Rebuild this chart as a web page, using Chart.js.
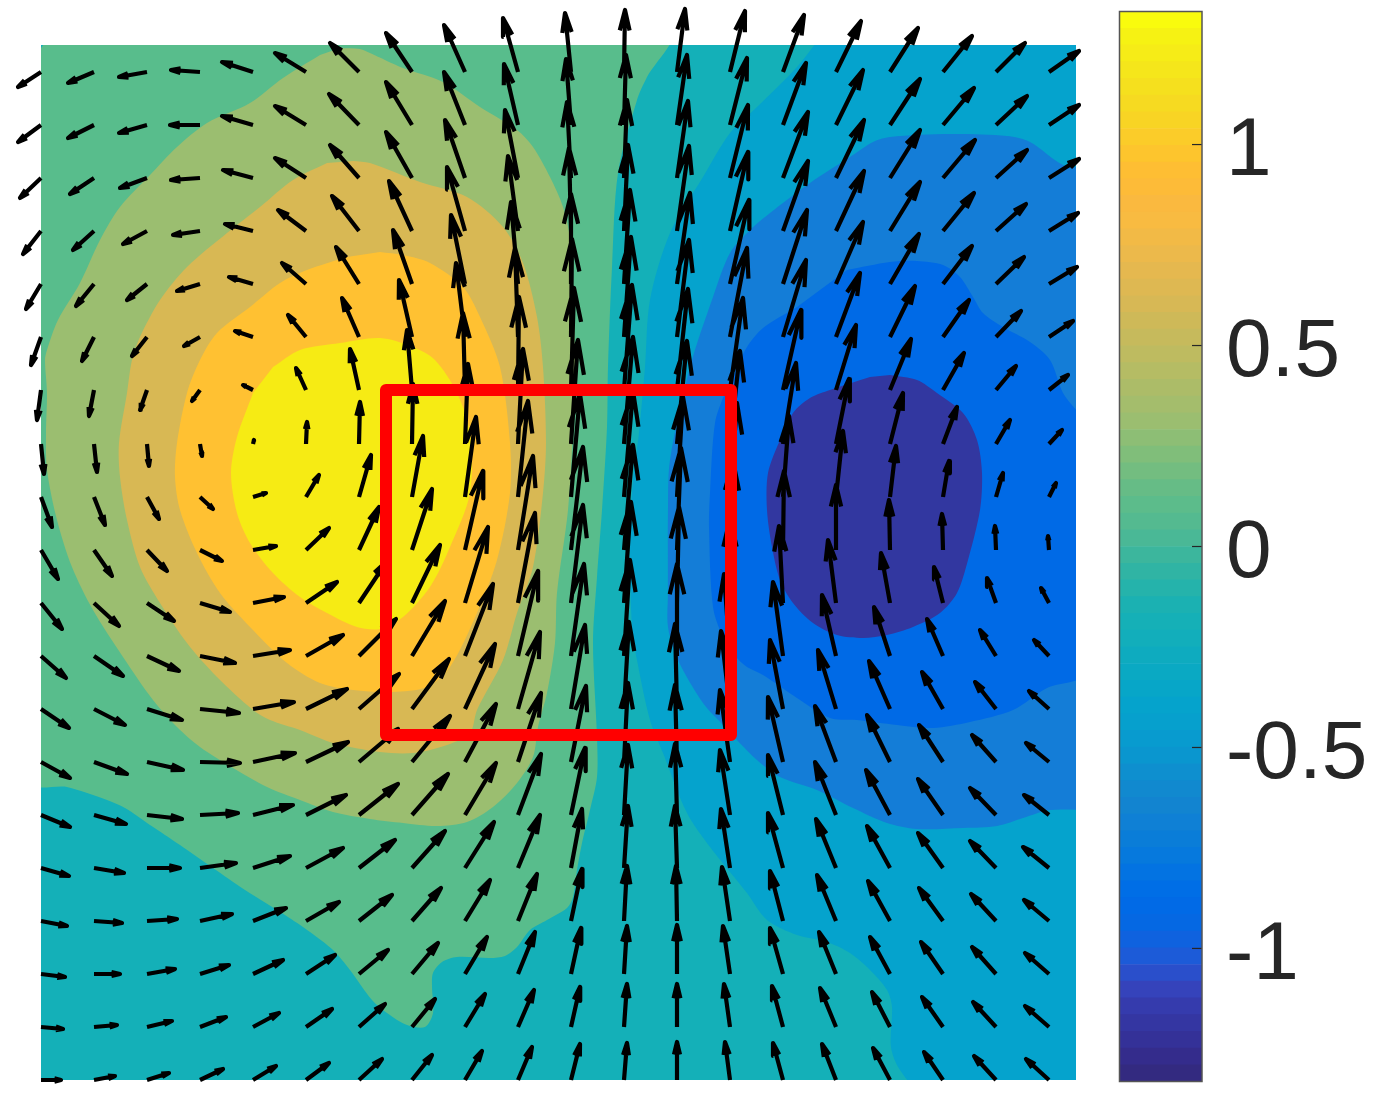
<!DOCTYPE html>
<html>
<head>
<meta charset="utf-8">
<title>Contour and quiver</title>
<script src="https://cdn.jsdelivr.net/npm/chart.js@4"></script>
<style>
html,body{margin:0;padding:0;background:#fff;}
canvas{position:absolute;}
#plot{left:0;top:0;}
#bar{left:1117px;top:9px;}
</style>
</head>
<body>
<canvas id="plot" width="1375" height="1097"></canvas>
<canvas id="bar" width="258" height="1075"></canvas>
<script>
// GRID OF THE ARROWS (tails)
const gridX = [0,53,106,159,212,265,318,371,424,477,530,583,636,689,742,795,849,902,955,1008];
const gridY = [1008,955,902,849,796,743,690,636,583,530,477,424,371,318,265,212,159,106,53,0];

// ARROW COMPONENTS, one list per row, top row first
const quiverU = [
  [-23,-26,-28,-29,-31,-31,-29,-26,-21,-15,-6,1,8,15,21,25,28,29,29,30],
  [-23,-26,-28,-30,-31,-31,-30,-26,-21,-14,-5,2,10,17,23,27,30,31,31,30],
  [-21,-24,-27,-29,-30,-31,-29,-26,-20,-13,-4,3,11,18,25,28,30,32,31,30],
  [-18,-21,-24,-27,-28,-28,-27,-23,-18,-10,-2,4,12,18,25,28,30,31,30,29],
  [-15,-18,-20,-23,-24,-24,-23,-19,-14,-7,0,6,13,19,24,27,29,29,28,28],
  [-10,-12,-15,-16,-18,-18,-17,-13,-9,-3,1,7,12,17,23,24,25,26,25,24],
  [-4,-5,-7,-8,-10,-10,-9,-5,-2,1,3,8,11,13,18,20,21,21,20,19],
  [3,3,2,2,1,1,1,1,3,5,7,9,10,10,13,13,13,14,14,13],
  [11,11,12,13,13,13,12,11,11,10,9,9,6,7,6,7,6,6,7,7],
  [17,18,20,22,23,23,20,20,18,15,12,9,4,3,1,0,-1,-1,-1,-1],
  [21,25,27,30,31,31,28,28,23,17,12,7,2,0,-4,-8,-9,-9,-9,-8],
  [25,29,32,35,37,37,37,33,28,20,13,6,0,-6,-10,-14,-16,-16,-16,-15],
  [28,31,35,39,41,41,40,37,30,22,14,5,-2,-9,-13,-18,-21,-21,-21,-20],
  [29,33,36,40,42,42,39,38,31,23,15,4,-2,-10,-15,-21,-23,-24,-24,-23],
  [29,32,35,38,40,40,39,36,31,23,14,4,-2,-10,-15,-21,-24,-25,-26,-25],
  [28,30,33,36,37,37,36,33,29,22,11,4,-2,-9,-15,-20,-23,-25,-26,-26],
  [26,28,30,32,33,33,33,29,25,19,11,3,-1,-8,-13,-19,-22,-24,-25,-25],
  [24,26,28,29,30,29,29,26,22,17,10,3,0,-7,-13,-17,-20,-22,-24,-24],
  [22,23,25,26,26,26,26,23,20,16,9,3,0,-6,-11,-16,-18,-21,-23,-24],
  [20,21,22,23,23,23,23,20,17,14,9,3,0,-5,-10,-14,-17,-19,-22,-23]
];
const quiverV = [
  [-15,-11,-5,2,10,19,29,39,47,54,59,62,63,61,57,51,44,36,29,21],
  [-17,-13,-8,0,9,19,31,43,53,61,66,70,70,67,62,55,46,37,29,20],
  [-20,-16,-10,-2,8,20,33,46,58,68,76,78,77,73,66,58,48,38,28,19],
  [-23,-19,-13,-4,7,21,35,50,64,75,83,86,85,79,70,60,49,38,27,18],
  [-25,-22,-16,-7,7,21,37,54,69,82,90,94,91,84,74,62,50,38,27,17],
  [-28,-24,-19,-9,6,22,39,57,74,89,98,100,97,89,77,64,51,37,26,16],
  [-30,-26,-20,-11,5,22,41,60,77,93,102,105,101,92,80,65,51,37,24,15],
  [-30,-28,-22,-12,4,22,42,60,80,95,104,107,103,93,81,65,51,37,24,14],
  [-30,-28,-22,-12,4,22,42,61,80,96,103,106,100,94,81,66,51,36,24,14],
  [-29,-26,-21,-11,4,22,43,61,79,94,103,105,102,89,79,65,50,36,24,14],
  [-26,-23,-18,-9,6,21,42,58,76,90,98,101,96,84,77,63,50,36,25,15],
  [-22,-20,-15,-7,6,21,37,55,72,85,92,96,92,82,74,61,49,37,26,16],
  [-19,-16,-11,-4,7,20,35,50,65,77,84,87,85,78,69,59,48,37,27,18],
  [-16,-12,-8,-1,9,20,33,46,58,69,76,79,77,72,65,56,47,37,27,19],
  [-12,-9,-4,2,10,20,31,41,52,61,67,70,71,65,60,53,45,36,27,20],
  [-8,-5,0,5,12,20,28,37,46,53,59,62,62,59,55,49,42,35,27,21],
  [-5,-2,2,7,13,19,26,33,41,47,52,55,55,54,50,46,40,33,27,21],
  [-3,0,5,9,14,19,24,31,37,42,46,48,49,48,46,42,37,32,27,21],
  [-2,2,6,10,14,18,23,28,33,37,40,43,43,43,41,39,35,30,25,21],
  [0,4,7,11,14,17,21,25,29,33,36,37,38,38,37,36,32,28,24,21]
];

// CONTOUR OUTLINES, [x,y] in the units of the plot (0 to 1035)
const levelBase = [[-10,-10],[1045,-10],[1045,1045],[-10,1045]];
const levelPos0 = [[-10,1019],[-10,298],[26,293],[66,280],[84,272],[109,255],[139,235],[172,212],[204,190],[244,165],[269,148],[292,130],[309,110],[331,80],[346,67],[366,55],[384,53],[392,67],[391,93],[392,107],[401,118],[416,123],[449,122],[464,124],[476,133],[489,150],[506,160],[526,172],[532,183],[536,210],[541,237],[549,270],[556,303],[556,343],[552,437],[556,503],[561,570],[566,653],[567,713],[571,813],[577,907],[596,980],[606,1003],[628,1045],[10,1045]];
const levelPos1 = [[299,1032],[319,1031],[329,1027],[362,1012],[402,998],[439,973],[476,950],[492,933],[509,903],[522,873],[529,840],[534,720],[532,653],[527,570],[516,487],[514,437],[506,387],[497,353],[492,323],[476,297],[452,273],[426,258],[396,254],[362,257],[329,261],[292,268],[259,280],[226,293],[192,312],[159,333],[136,353],[112,380],[82,423],[52,470],[31,513],[16,560],[6,610],[5,647],[6,687],[4,720],[6,730],[17,760],[39,797],[59,840],[79,873],[109,905],[136,933],[166,957],[209,977],[242,1002],[279,1025]];
const levelPos2 = [[312,919],[329,917],[379,898],[426,883],[462,853],[482,817],[496,763],[502,713],[505,637],[502,587],[492,513],[476,467],[462,420],[436,370],[429,347],[406,335],[372,327],[339,328],[292,337],[259,350],[229,360],[212,370],[176,403],[146,437],[119,477],[99,513],[86,560],[79,603],[78,637],[86,687],[91,720],[99,743],[119,780],[146,813],[186,847],[219,873],[252,900],[286,917]];
const levelPos3 = [[339,828],[362,825],[389,817],[422,793],[439,763],[459,713],[469,637],[469,587],[456,520],[436,467],[409,413],[386,393],[351,388],[312,390],[279,397],[246,417],[209,453],[179,487],[156,527],[139,570],[134,603],[136,637],[146,687],[159,720],[176,747],[209,773],[239,797],[266,810],[306,823]];
const levelPos4 = [[232,713],[259,730],[299,737],[339,742],[372,733],[394,720],[416,687],[429,647],[429,587],[409,533],[389,493],[362,463],[339,451],[316,453],[286,467],[259,483],[232,507],[209,537],[196,567],[190,607],[196,643],[212,687]];
const levelNeg1 = [[781,1045],[756,1013],[716,973],[689,947],[662,903],[629,847],[609,780],[604,713],[598,647],[592,600],[589,537],[591,453],[596,420],[609,360],[622,327],[646,267],[669,233],[689,208],[706,187],[726,160],[756,145],[786,138],[809,127],[829,110],[846,90],[851,73],[850,33],[859,10],[880,-10],[1045,-10],[1045,1045]];
const levelNeg2 = [[1045,912],[1022,915],[989,938],[966,944],[909,946],[849,943],[832,938],[812,925],[769,897],[729,867],[709,850],[689,827],[672,783],[649,713],[629,620],[627,570],[627,487],[627,453],[637,420],[662,377],[684,353],[696,340],[716,320],[739,303],[776,290],[812,272],[846,257],[876,251],[922,252],[956,254],[982,262],[1009,270],[1045,270]];
const levelNeg3 = [[806,810],[849,818],[876,819],[902,815],[919,803],[932,783],[942,767],[962,753],[989,738],[1009,720],[1022,687],[1045,652],[1045,408],[1006,392],[972,370],[929,358],[892,352],[856,355],[816,360],[789,362],[756,382],[722,405],[706,413],[696,422],[682,443],[672,473],[668,553],[669,587],[674,657],[684,687],[694,708],[706,733],[722,752],[756,773]];
const levelNeg4 = [[849,705],[876,700],[896,687],[922,667],[936,640],[941,607],[939,570],[927,520],[916,487],[899,467],[872,453],[846,445],[822,442],[796,445],[772,457],[752,477],[739,500],[731,533],[726,570],[727,607],[739,640],[752,667],[769,682],[789,690],[829,703]];

// RED SQUARE
const boxX = [345,690];
const boxY = [345,690];

// COLORBAR
const barTicks = [-1,-0.5,0,0.5,1];
const barMin = -1.331;
const barMax = 1.331;
const barColors = [
  "#332a80","#342c8c","#343198","#3436a2","#353bad","#3543bb","#2a4fcb","#1c5bd8",
  "#0f62df","#0568e3","#016ae6","#006ee6","#0373e2","#0679dd","#0a7dd8","#0f80d5",
  "#1284d0","#1189cf","#0e8fcf","#0a96cf","#089bcf","#06a0cd","#05a3cc","#07a6c8",
  "#0aa9c3","#0eabbf","#12aebb","#15b0b7","#1bb1b2","#25b3ab","#30b4a4","#3cb69d",
  "#4ab896","#54ba90","#5cbc8b","#66bc86","#73bd80","#80be7a","#8dbe75","#9bbe70",
  "#a4bd6c","#acbc68","#b5bc64","#bebb60","#c6ba5c","#ceb958","#d7b855","#deb852",
  "#e5b84f","#ecb94b","#f2ba46","#f8bb41","#fab93f","#fdbb38","#febe33","#fdc52d",
  "#fbcc29","#f8d424","#f6da21","#f5e01e","#f5e61b","#f6ec17","#f6f213","#f9fb0d"
];

// arrow shaft + head, NaN breaks the line between pieces
function montarSetas(){
  const pts = [];
  const gap = {x:NaN,y:NaN};
  gridY.forEach((y,r)=>{
    gridX.forEach((x,c)=>{
      const u = quiverU[r][c], v = quiverV[r][c];
      const tx = x+u, ty = y+v;
      const a = 0.33, b = 0.24;
      pts.push({x:x,y:y},{x:tx,y:ty},gap);
      pts.push({x:tx-a*(u+b*v),y:ty-a*(v-b*u)},{x:tx,y:ty},{x:tx-a*(u-b*v),y:ty-a*(v+b*u)},gap);
    });
  });
  return pts;
}

function contorno(lista,cor){
  return {
    data:lista.map(p=>({x:p[0],y:p[1]})),
    fill:'shape',
    backgroundColor:cor,
    borderWidth:0,
    borderColor:'transparent',
    pointRadius:0,
    tension:0.3
  };
}

// first dataset ends on top: red square, arrows, then contours down to the base
new Chart(document.getElementById("plot"),{
  type:'line',
  data:{
    datasets:[
      {
        data:[
          {x:boxX[0],y:boxY[0]},{x:boxX[1],y:boxY[0]},{x:boxX[1],y:boxY[1]},
          {x:boxX[0],y:boxY[1]},{x:boxX[0],y:boxY[0]}
        ],
        borderColor:'#ff0000',
        borderWidth:12,
        borderJoinStyle:'round',
        borderCapStyle:'round',
        pointRadius:0,
        tension:0,
        clip:false
      },
      {
        data:montarSetas(),
        borderColor:'#000',
        borderWidth:4.2,
        borderJoinStyle:'round',
        borderCapStyle:'butt',
        pointRadius:0,
        tension:0,
        spanGaps:false,
        clip:false
      },
      contorno(levelNeg4,'#3237a0'),
      contorno(levelNeg3,'#006ae6'),
      contorno(levelNeg2,'#147dd7'),
      contorno(levelNeg1,'#05a3cd'),
      contorno(levelPos4,'#f6eb14'),
      contorno(levelPos3,'#ffc132'),
      contorno(levelPos2,'#d8b854'),
      contorno(levelPos1,'#9bbe70'),
      contorno(levelPos0,'#58bd8c'),
      contorno(levelBase,'#14b0b8')
    ]
  },
  options:{
    responsive:false,
    animation:false,
    layout:{padding:{left:41,top:45,right:299,bottom:17}},
    plugins:{legend:{display:false},tooltip:{enabled:false}},
    scales:{
      x:{type:'linear',min:0,max:1035,display:false},
      y:{type:'linear',min:0,max:1035,display:false}
    }
  }
});

// box and inner tick marks of the colorbar
const barFrame = {
  id:'barFrame',
  afterDatasetsDraw(chart){
    const ctx = chart.ctx, a = chart.chartArea, y = chart.scales.y;
    ctx.save();
    ctx.strokeStyle = '#262626';
    ctx.lineWidth = 1.2;
    barTicks.forEach(t=>{
      const py = y.getPixelForValue(t);
      ctx.beginPath();
      ctx.moveTo(a.right-10,py);
      ctx.lineTo(a.right,py);
      ctx.stroke();
    });
    ctx.strokeStyle = '#555';
    ctx.lineWidth = 1.5;
    ctx.strokeRect(a.left,a.top,a.right-a.left,a.bottom-a.top);
    ctx.restore();
  }
};

const faixa = (barMax-barMin)/barColors.length;
new Chart(document.getElementById("bar"),{
  type:'bar',
  data:{
    labels:["c"],
    datasets:barColors.map((cor,i)=>({
      data:[[barMin+i*faixa,barMin+(i+1)*faixa]],
      backgroundColor:cor,
      borderWidth:0,
      grouped:false,
      barPercentage:1,
      categoryPercentage:1
    }))
  },
  options:{
    responsive:false,
    animation:false,
    layout:{autoPadding:false,padding:{left:2.5,top:2.5,bottom:2.5,right:0}},
    plugins:{legend:{display:false},tooltip:{enabled:false}},
    scales:{
      x:{display:false},
      y:{
        position:'right',
        min:barMin,
        max:barMax,
        afterFit(scale){
          scale.width = 173;
          scale.paddingTop = 0;
          scale.paddingBottom = 0;
        },
        afterBuildTicks(scale){scale.ticks = barTicks.map(v=>({value:v}));},
        grid:{display:false},
        border:{display:false},
        ticks:{
          autoSkip:false,
          padding:16,
          crossAlign:'near',
          color:'#262626',
          // empty first line moves the label down by half a line height
          font:{family:'"Liberation Sans"',size:82,lineHeight:0.195},
          callback:v=>['',String(v)]
        }
      }
    }
  },
  plugins:[barFrame]
});
</script>
</body>
</html>
